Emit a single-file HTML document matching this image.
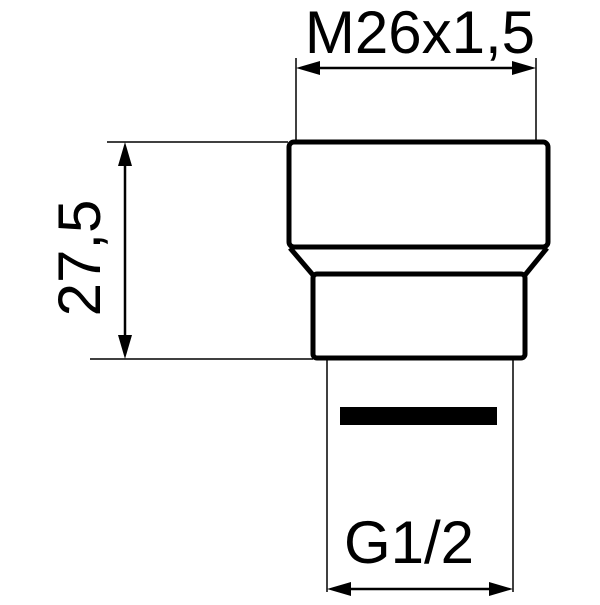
<!DOCTYPE html>
<html><head><style>body{margin:0;background:#fff}</style></head><body>
<svg width="600" height="600" viewBox="0 0 600 600" xmlns="http://www.w3.org/2000/svg" font-family="Liberation Sans, sans-serif">
<g stroke="#000" stroke-width="1.5" fill="none">
<line x1="296" y1="58" x2="296" y2="140"/>
<line x1="536" y1="58" x2="536" y2="140"/>
<line x1="314" y1="68" x2="518" y2="68" stroke-width="2.5"/>
<line x1="107" y1="142" x2="288" y2="142"/>
<line x1="90" y1="359" x2="313" y2="359"/>
<line x1="125" y1="160" x2="125" y2="340" stroke-width="2.5"/>
<line x1="327" y1="358" x2="327" y2="592"/>
<line x1="513" y1="358" x2="513" y2="592"/>
<line x1="346" y1="589" x2="494" y2="589" stroke-width="2.5"/>
</g>
<g fill="#000">
<polygon points="296,68 320,61 320,75"/>
<polygon points="536,68 512,61 512,75"/>
<polygon points="125,142 118,166 132,166"/>
<polygon points="125,359 118,335 132,335"/>
<polygon points="327,589 351,582 351,596"/>
<polygon points="513,589 489,582 489,596"/>
<rect x="340" y="407" width="157" height="18"/>
</g>
<g stroke="#000" stroke-width="5" fill="none" stroke-linejoin="round">
<rect x="289" y="142" width="259" height="105" rx="5"/>
<line x1="290" y1="248" x2="313" y2="275"/>
<line x1="547" y1="248" x2="525" y2="275"/>
<rect x="313" y="274" width="212" height="84" rx="4"/>
</g>
<text x="420" y="53" font-size="60" text-anchor="middle">M26x1,5</text>
<text x="409" y="563" font-size="60" text-anchor="middle">G1/2</text>
<text transform="translate(100,258) rotate(-90)" font-size="60" text-anchor="middle">27,5</text>
</svg>
</body></html>
